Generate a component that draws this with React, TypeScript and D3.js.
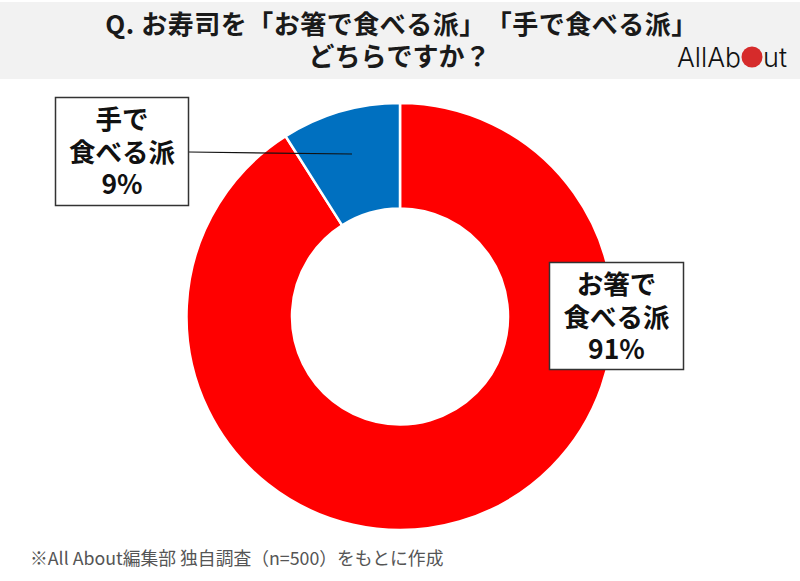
import React from 'react';
import * as d3 from 'd3';

const categories = ['お箸で食べる派', '手で食べる派'];
const values = [91, 9];
const sliceColors = ['#ff0000', '#0070c0'];
const titleLines = ['Q. お寿司を「お箸で食べる派」「手で食べる派」', 'どちらですか？'];
const chopstickLines = ['お箸で', '食べる派', `${values[0]}%`];
const handLines = ['手で', '食べる派', `${values[1]}%`];
const noteText = '※All About編集部 独自調査（n=500）をもとに作成';

const JP = '"Noto Sans CJK JP", "Noto Sans", sans-serif';

const W = 800;
const H = 581;
const cx = 400;
const cy = 316.5;
const outerR = 213.5;
const innerR = 108;

function BoxLines({ lines, x, y }: { lines: string[]; x: number; y: number }) {
  return (
    <text textAnchor="middle" fontSize={26.5} fontWeight={700} fill="#111">
      {lines.map((t, i) => (
        <tspan key={t} x={x} y={y + i * 32.5}>{t}</tspan>
      ))}
    </text>
  );
}

export default function App() {
  const pie = d3.pie<number>().sort(null)(values);
  const arc = d3.arc<d3.PieArcDatum<number>>().innerRadius(innerR).outerRadius(outerR);
  const noTrim = { textSpacingTrim: 'space-all', fontKerning: 'none' } as React.CSSProperties;

  return (
    <svg
      width={W}
      height={H}
      viewBox={`0 0 ${W} ${H}`}
      style={{ position: 'fixed', left: 0, top: 0, display: 'block', background: '#fff' }}
      fontFamily={JP}
    >
      {/* title band */}
      <rect x={-6} y={2} width={W + 12} height={77} rx={5} fill="#f2f2f2" />
      <text textAnchor="middle" fontSize={26} fontWeight={700} fill="#1a1a1a" style={noTrim}>
        <tspan x={401.5} y={34} letterSpacing={0.5}>{titleLines[0]}</tspan>
        <tspan x={399.5} y={66}>{titleLines[1]}</tspan>
      </text>

      {/* logo */}
      <g fill="#111" fontFamily="Inter, Roboto, sans-serif" fontSize={27.5} fontWeight={300}>
        <text x={677} y={67} textLength={64} lengthAdjust="spacingAndGlyphs">AllAb</text>
        <circle cx={752} cy={57} r={10.5} fill="#d62b2b" />
        <text x={763} y={67} textLength={24} lengthAdjust="spacingAndGlyphs">ut</text>
      </g>

      {/* donut */}
      <g transform={`translate(${cx},${cy})`}>
        {pie.map((d, i) => (
          <path key={categories[i]} d={arc(d) ?? ''} fill={sliceColors[i]} stroke="#fff" strokeWidth={2.5} />
        ))}
      </g>

      {/* leader line for the small slice */}
      <line x1={189} y1={152} x2={352} y2={154} stroke="#111" strokeWidth={1.2} />

      {/* label: hand */}
      <rect x={55.5} y={97.5} width={133} height={108} fill="#fff" stroke="#333" strokeWidth={1.5} />
      <BoxLines lines={handLines} x={122} y={129} />

      {/* label: chopsticks */}
      <rect x={549.5} y={262.5} width={134} height={107} fill="#fff" stroke="#333" strokeWidth={1.5} />
      <BoxLines lines={chopstickLines} x={616.5} y={294} />

      {/* source note */}
      <text x={30} y={565} fontSize={17.8} fill="#555" fontWeight={400}>{noteText}</text>
    </svg>
  );
}
